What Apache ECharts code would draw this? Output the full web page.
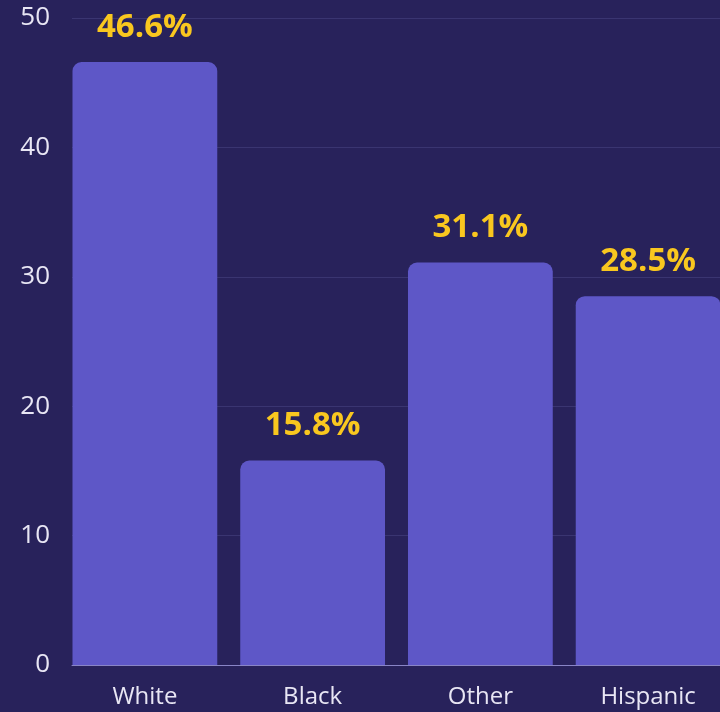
<!DOCTYPE html>
<html>
<head>
<meta charset="utf-8">
<script src="https://cdn.jsdelivr.net/npm/echarts@6/dist/echarts.min.js"></script>
<style>
  html, body { margin: 0; padding: 0; background: #28225b; }
  #chart { width: 720px; height: 712px; }
</style>
</head>
<body>
<div id="chart"></div>
<script>
// Share of respondents by group (percent)
const categories = ['White', 'Black', 'Other', 'Hispanic'];
const shares = [46.6, 15.8, 31.1, 28.5];
const yTicks = { min: 0, max: 50, interval: 10 };

const textColor = '#e8e6f4';
const chart = echarts.init(document.getElementById('chart'), null, { renderer: 'canvas' });

chart.setOption({
  backgroundColor: '#28225b',
  animation: false,
  // grid 0 holds the bars and the labels; grid 1 only draws the
  // guide lines, so they begin at the first bar's left edge
  grid: [
    { left: 61, width: 671, top: 18, bottom: 47, outerBoundsMode: 'none', containLabel: false },
    { left: 72, right: 0, top: 18, bottom: 47, outerBoundsMode: 'none', containLabel: false }
  ],
  xAxis: [{
    type: 'category',
    gridIndex: 0,
    data: categories,
    axisTick: { show: false },
    axisLine: { show: false },
    axisLabel: {
      color: textColor,
      fontFamily: 'Open Sans',
      fontSize: 24,
      margin: 20
    }
  }, {
    type: 'category',
    gridIndex: 1,
    data: categories,
    z: 5,
    axisTick: { show: false },
    axisLabel: { show: false },
    axisLine: { show: true, lineStyle: { color: '#8985c6', width: 1 } }
  }],
  yAxis: [{
    type: 'value',
    gridIndex: 0,
    min: yTicks.min,
    max: yTicks.max,
    interval: yTicks.interval,
    axisLine: { show: false },
    axisTick: { show: false },
    splitLine: { show: false },
    axisLabel: {
      color: textColor,
      fontFamily: 'Open Sans',
      fontSize: 26,
      margin: 11
    }
  }, {
    type: 'value',
    gridIndex: 1,
    min: yTicks.min,
    max: yTicks.max,
    interval: yTicks.interval,
    axisLine: { show: false },
    axisTick: { show: false },
    axisLabel: { show: false },
    splitLine: { lineStyle: { color: '#3a3571', width: 1 } }
  }],
  series: [{
    type: 'bar',
    xAxisIndex: 0,
    yAxisIndex: 0,
    data: shares,
    barCategoryGap: '13.7%',
    itemStyle: { color: '#5e57c7', borderRadius: [9, 9, 0, 0] },
    label: {
      show: true,
      position: 'top',
      distance: 18,
      color: '#f9c71f',
      fontFamily: 'Open Sans',
      fontWeight: 'bold',
      fontSize: 33,
      formatter: p => p.value.toFixed(1) + '%'
    }
  }]
});
</script>
</body>
</html>
